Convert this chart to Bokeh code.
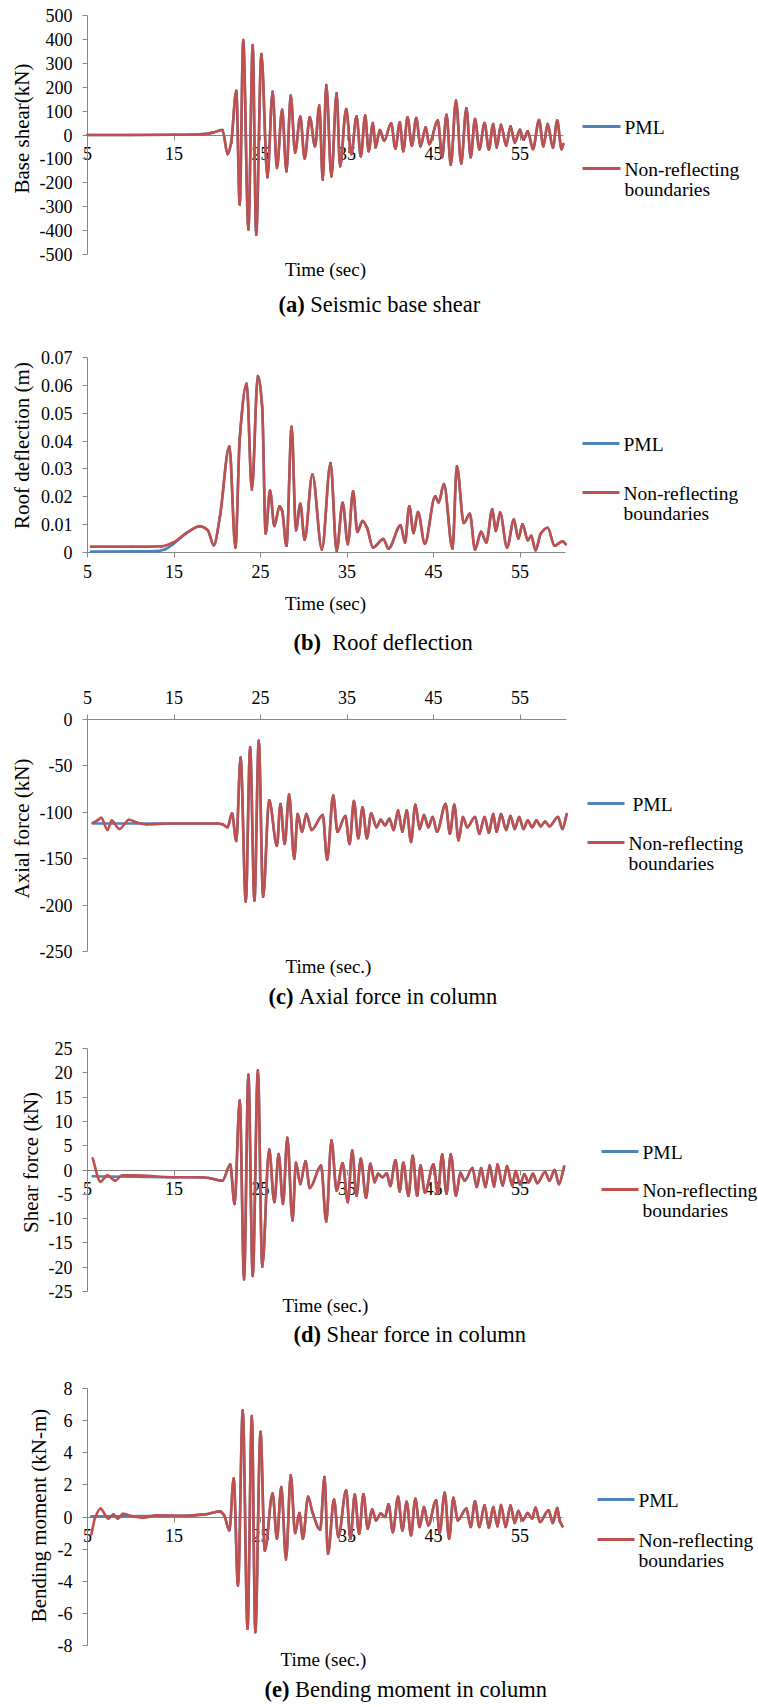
import numpy as np
from bokeh.plotting import figure
from bokeh.models import Range1d, LinearAxis, FixedTicker, NumeralTickFormatter, ColumnDataSource
from bokeh.layouts import column
from bokeh.embed import file_html
from bokeh.resources import INLINE
from bokeh.core.properties import value

FONT = "Liberation Serif"
BLUE = "#4F81BD"
RED = "#C0504D"
AXIS = "#868686"

# ---------------- data ----------------
x_ticks = [5, 15, 25, 35, 45, 55]

# (a) Seismic base shear (kN)
t_a = [5.0, 10.0, 15.0, 18.0, 19.5, 20.6, 21.2, 21.6, 22.2, 22.6, 23.0, 23.6, 24.1, 24.5, 25.1,
       25.8, 26.4, 26.9, 27.5, 28.0, 28.5, 29.0, 29.6, 30.1, 30.7, 31.3, 31.8, 32.2, 32.6, 33.2,
       33.8, 34.2, 34.9, 35.5, 36.1, 36.6, 37.1, 37.5, 38.0, 38.3, 38.8, 39.3, 40.1, 40.6, 41.1,
       41.5, 42.0, 42.5, 43.0, 43.5, 44.1, 44.5, 45.5, 46.0, 46.5, 47.0, 47.6, 48.2, 48.8, 49.3,
       49.8, 50.3, 50.9, 51.4, 51.9, 52.3, 52.8, 53.4, 53.9, 54.4, 55.0, 55.4, 55.9, 56.5, 57.2,
       57.7, 58.2, 58.8, 59.3, 59.8, 60.0]
nrb_a = [0, 0, 1, 3, 10, 21, -80, -35, 185, -291, 397, -395, 376, -417, 339,
         -177, 181, -138, 105, -152, 165, -73, 77, -98, 74, -47, 123, -187, 209, -173,
         174, -131, 109, -80, 78, -89, 81, -68, 50, -52, 21, -24, 49, -56, 53,
         -68, 74, -45, 71, -47, 32, -38, 60, -93, 85, -124, 144, -119, 112, -93,
         67, -60, 50, -60, 46, -52, 43, -45, 36, -31, 22, -20, 15, -59, 63,
         -47, 46, -52, 60, -59, -38]
t_pml_a = list(t_a)
pml_a = list(nrb_a)

# (b) Roof deflection (m)
t_b = [5.4, 10.0, 13.5, 14.9, 16.4, 18.0, 18.9, 19.6, 20.3, 21.4, 22.1, 22.6, 23.4, 24.0, 24.7,
       25.2, 25.6, 26.1, 26.6, 27.2, 27.5, 28.0, 28.6, 29.1, 29.6, 30.1, 31.0, 32.1, 33.1, 33.8,
       34.5, 35.1, 35.7, 36.2, 36.8, 37.3, 38.0, 39.2, 39.8, 41.2, 41.7, 42.2, 42.7, 43.2, 44.0,
       45.2, 45.6, 46.2, 47.2, 47.7, 48.5, 49.2, 49.8, 50.5, 51.1, 51.8, 52.2, 52.7, 53.5, 54.3,
       54.8, 55.3, 55.9, 56.3, 56.8, 57.4, 58.2, 59.0, 59.9, 60.3]
nrb_b = [0.0021, 0.0021, 0.0022, 0.0036, 0.0070, 0.0094, 0.0080, 0.0026, 0.0127, 0.0380,
         0.0018, 0.0410, 0.0606, 0.0226, 0.0633, 0.0520, 0.0068, 0.0222, 0.0095, 0.0166,
         0.0150, 0.0024, 0.0451, 0.0080, 0.0175, 0.0046, 0.0280, 0.0011, 0.0321, 0.0006,
         0.0178, 0.0030, 0.0220, 0.0074, 0.0113, 0.0090, 0.0018, 0.0048, 0.0014, 0.0098,
         0.0036, 0.0166, 0.0070, 0.0145, 0.0032, 0.0202, 0.0180, 0.0246, 0.0014, 0.0309,
         0.0106, 0.0139, 0.0011, 0.0074, 0.0036, 0.0155, 0.0077, 0.0143, 0.0018, 0.0118,
         0.0050, 0.0101, 0.0044, 0.0060, 0.0008, 0.0068, 0.0089, 0.0024, 0.0040, 0.0030]
t_pml_b_head = [5.4, 10.0, 13.0, 14.0, 14.9, 16.4]
pml_b_head = [0.0003, 0.0004, 0.0005, 0.0012, 0.0030, 0.0068]
t_pml_b = t_pml_b_head + t_b[5:]
pml_b = pml_b_head + nrb_b[5:]

# (c) Axial force in column (kN)
t_c = [5.6, 6.1, 6.6, 7.3, 7.8, 8.7, 9.8, 10.7, 11.8, 15.0, 20.0, 20.6, 21.2, 21.7, 22.2,
       22.7, 23.3, 23.8, 24.3, 24.8, 25.3, 26.0, 26.9, 27.3, 27.8, 28.3, 28.9, 29.3, 29.8, 30.3,
       30.9, 32.2, 32.7, 33.4, 33.9, 34.8, 35.3, 35.8, 36.3, 36.8, 37.3, 37.8, 38.4, 38.9, 39.4,
       39.9, 40.4, 40.9, 41.4, 41.9, 42.4, 42.9, 43.4, 43.9, 44.4, 44.9, 45.4, 46.4, 46.9, 47.4,
       47.9, 48.4, 48.9, 49.8, 50.3, 50.9, 51.4, 51.9, 52.3, 52.8, 53.4, 53.9, 54.4, 54.9, 55.4,
       55.9, 56.4, 56.9, 57.4, 57.9, 58.4, 59.4, 59.9, 60.4]
nrb_c = [-111.5, -109, -106, -119, -109, -118, -108, -111, -113, -112, -112, -113, -116, -101, -131,
         -41, -196, -30, -195, -23, -191, -87, -136, -91, -134, -81, -150, -102, -121, -102,
         -119, -103, -151, -82, -121, -104, -134, -88, -128, -95, -128, -101, -116, -108, -114,
         -107, -119, -98, -121, -98, -132, -92, -118, -103, -116, -105, -121, -91, -123, -92,
         -130, -105, -116, -105, -123, -105, -122, -102, -121, -102, -119, -104, -118, -105, -118,
         -109, -116, -109, -115, -110, -115, -105, -118, -102]
t_pml_c = [5.6, 15.0] + t_c[10:]
pml_c = [-112, -112] + nrb_c[10:]

# (d) Shear force in column (kN)
t_d = [5.6, 6.5, 7.3, 8.2, 9.0, 10.4, 15.0, 18.0, 19.2, 20.6, 21.5, 22.0, 22.6, 23.1, 23.6,
       24.1, 24.7, 25.2, 26.0, 26.6, 27.1, 27.6, 28.1, 28.7, 29.1, 29.6, 30.2, 30.7, 32.0, 32.6,
       33.2, 33.8, 34.5, 35.1, 35.6, 36.1, 36.6, 37.2, 37.7, 38.2, 38.6, 39.1, 39.6, 40.0, 40.6,
       41.1, 41.5, 42.1, 42.6, 43.1, 43.5, 44.0, 45.0, 45.5, 46.0, 46.5, 47.0, 47.6, 48.1, 48.6,
       49.5, 50.0, 50.5, 51.0, 51.5, 52.0, 52.4, 53.0, 53.5, 54.1, 54.5, 55.0, 55.5, 56.0, 56.5,
       57.0, 57.9, 58.4, 59.0, 59.5, 60.1]
nrb_d = [2.4, -2.4, -1.1, -2.2, -1.1, -1.1, -1.5, -1.5, -1.7, -2.2, 1.1, -7.0, 14.3, -22.5, 19.6,
         -21.8, 20.5, -19.9, 4.2, -6.6, 3.3, -7.0, 6.6, -10.4, 1.5, -2.9, 1.8, -3.7, 0.9, -10.6,
         6.1, -4.2, 1.4, -6.6, 4.0, -5.3, 2.3, -5.7, 1.3, -2.5, -0.8, -1.5, -0.7, -3.3, 2.0,
         -4.4, 1.5, -5.3, 2.9, -5.3, 0.9, -4.6, 1.1, -4.8, 3.2, -4.9, 3.2, -5.3, -0.6, -2.2,
         0.4, -3.5, 0.4, -3.5, 0.9, -3.4, 1.1, -3.2, 0.8, -3.2, -0.2, -3.0, -0.9, -2.5, -0.8,
         -2.7, -0.4, -2.2, 0.0, -2.9, 0.7]
t_pml_d = [5.6, 10.4, 15.0] + t_d[7:]
pml_d = [-1.3, -1.4, -1.5] + nrb_d[7:]

# (e) Bending moment in column (kN-m)
t_e = [5.45, 5.85, 6.5, 7.4, 8.0, 8.5, 9.1, 10.1, 11.5, 13.0, 16.4, 18.6, 20.3, 20.8, 21.4,
       21.9, 22.4, 22.95, 23.5, 24.0, 24.4, 25.0, 25.5, 26.4, 26.9, 27.4, 27.95, 28.5, 29.0, 29.5,
       29.9, 30.5, 31.0, 31.9, 32.4, 32.8, 33.5, 34.0, 34.9, 35.4, 35.9, 36.4, 36.9, 37.4, 37.9,
       38.35, 38.9, 39.4, 39.8, 40.3, 40.9, 41.4, 41.9, 42.4, 42.9, 43.4, 43.9, 44.4, 45.3, 45.7,
       46.3, 46.8, 47.3, 47.8, 48.8, 49.3, 49.8, 50.3, 50.9, 51.4, 51.9, 52.4, 52.8, 53.35, 53.9,
       54.4, 54.8, 55.3, 55.9, 56.4, 56.8, 57.3, 58.3, 58.8, 59.3, 59.6, 59.9]
nrb_e = [-1.08, -0.1, 0.52, -0.1, 0.17, -0.1, 0.2, 0.06, -0.04, 0.1, 0.08, 0.17, 0.35, 0.1, -0.83,
         2.39, -4.26, 6.65, -6.96, 6.28, -7.17, 5.3, -2.08, 1.46, -1.35, 1.87, -2.64, 2.6, -1.0, 0.25,
         -1.35, 1.25, 0.31, -0.79, 2.49, -2.29, 1.08, -1.25, 1.66, -1.35, 1.39, -1.04, 1.41, -0.73, 0.48,
         -0.21, 0.21, 0.0, 0.79, -0.94, 1.25, -0.83, 0.94, -1.14, 1.14, -0.62, 0.62, -0.52, 1.04, -1.0,
         1.5, -1.35, 1.19, -0.21, 0.52, -0.62, 0.98, -0.62, 0.73, -0.67, 0.62, -0.58, 0.75, -0.62, 0.71,
         -0.37, 0.37, -0.21, 0.25, -0.1, 0.58, -0.31, 0.42, -0.37, 0.56, -0.25, -0.58]
t_pml_e = [5.45, 9.1, 13.0] + t_e[10:]
pml_e = [0.05, 0.05, 0.08] + nrb_e[10:]

yticks_a = [-500, -400, -300, -200, -100, 0, 100, 200, 300, 400, 500]
yticks_b = [0, 0.01, 0.02, 0.03, 0.04, 0.05, 0.06, 0.07]
yticks_c = [-250, -200, -150, -100, -50, 0]
yticks_d = [-25, -20, -15, -10, -5, 0, 5, 10, 15, 20, 25]
yticks_e = [-8, -6, -4, -2, 0, 2, 4, 6, 8]

ytitles = ["Base shear(kN)", "Roof deflection (m)", "Axial force (kN)",
           "Shear force (kN)", "Bending moment (kN-m)"]
xtitles = ["Time (sec)", "Time (sec)", "Time (sec.)", "Time (sec.)", "Time (sec.)"]
cap_tags = ["(a)", "(b)", "(c)", "(d)", "(e)"]
cap_texts = ["Seismic base shear", "Roof deflection", "Axial force in column",
             "Shear force in column", "Bending moment in column"]
legend_labels = ["PML", "Non-reflecting", "boundaries"]

# ---------------- layout (page pixel positions; the page has no margin) ----------------
W = 758
XS = 8.65                       # px per second
X0 = 5 - 87 / XS
X1 = X0 + W / XS

BOLD_EM = {"(": 0.333, ")": 0.333, "a": 0.5, "b": 0.556, "c": 0.444, "d": 0.556, "e": 0.444}
CAP_SIZE = 22.5
LEG_SIZE = 19.5

# all text y positions below are the vertical middles of the texts
specs = [
    dict(top=0, height=330, ref=((500, 15), (-500, 254)), yb=(-500, 500), fmt="0", side="below",
         xb=(5, 60), ylab=(21, 128), xt=(325, 269), cap=(278, 304, 1),
         leg=(582, 620, 624, 624, 126, 168)),
    dict(top=330, height=340, ref=((0.07, 357), (0.0, 552)), yb=(0, 0.07), fmt="0.[00]", side="below",
         xb=(5, 60.3), ylab=(21, 445), xt=(325, 603), cap=(293, 642, 2),
         leg=(582, 619, 623, 623, 443, 492)),
    dict(top=670, height=348, ref=((0, 719), (-250, 951)), yb=(-250, 0), fmt="0", side="above",
         xb=(5, 60.4), ylab=(21, 828), xt=(328, 966), cap=(268, 996, 1),
         leg=(587, 624, 632, 628, 803, 842)),
    dict(top=1018, height=337, ref=((25, 1048), (-25, 1291)), yb=(-25, 25), fmt="0", side="below",
         xb=(5, 60.1), ylab=(30, 1162), xt=(325, 1305), cap=(293, 1334, 1),
         leg=(601, 638, 642, 642, 1151, 1189)),
    dict(top=1355, height=350, ref=((8, 1388), (-8, 1645)), yb=(-8, 8), fmt="0", side="below",
         xb=(5, 59.9), ylab=(38, 1515), xt=(323, 1659), cap=(264, 1689, 1),
         leg=(597, 634, 638, 638, 1499, 1539)),
]

series = [(t_a, nrb_a, t_pml_a, pml_a, yticks_a),
          (t_b, nrb_b, t_pml_b, pml_b, yticks_b),
          (t_c, nrb_c, t_pml_c, pml_c, yticks_c),
          (t_d, nrb_d, t_pml_d, pml_d, yticks_d),
          (t_e, nrb_e, t_pml_e, pml_e, yticks_e)]


def fx(px):
    return X0 + px / XS


def smooth_segments(t, v):
    """Bezier segments of a smoothed (monotone cubic) line through the given points."""
    t = np.asarray(t, float)
    v = np.asarray(v, float)
    h = np.diff(t)
    d = np.diff(v) / h
    n = len(t)
    m = np.zeros(n)
    m[0], m[-1] = d[0], d[-1]
    for k in range(1, n - 1):
        if d[k - 1] * d[k] > 0:
            w1 = 2 * h[k] + h[k - 1]
            w2 = h[k] + 2 * h[k - 1]
            m[k] = (w1 + w2) / (w1 / d[k - 1] + w2 / d[k])
    return ColumnDataSource(dict(
        x0=t[:-1], y0=v[:-1], x1=t[1:], y1=v[1:],
        cx0=t[:-1] + h / 3, cy0=v[:-1] + m[:-1] * h / 3,
        cx1=t[1:] - h / 3, cy1=v[1:] - m[1:] * h / 3))


def style_axis(ax):
    ax.axis_line_color = AXIS
    ax.axis_line_width = 1
    ax.major_tick_line_color = AXIS
    ax.major_tick_out = 5
    ax.major_tick_in = 0
    ax.minor_tick_line_color = None
    ax.major_label_text_font = FONT
    ax.major_label_text_font_size = "18px"
    ax.major_label_text_color = "black"
    ax.level = "underlay"


def build(i):
    sp = specs[i]
    t, nrb, tp, pml, yt = series[i]
    top, height = sp["top"], sp["height"]
    (v1, p1), (v2, p2) = sp["ref"]
    s = (p2 - p1) / (v1 - v2)
    ytop = v1 + (p1 - top) / s
    ybot = ytop - height / s

    def fy(py):
        return ytop - (py - top) / s

    p = figure(width=W, height=height, x_range=Range1d(X0, X1), y_range=Range1d(ybot, ytop),
               x_axis_location=None, y_axis_location=None, toolbar_location=None,
               output_backend="svg", min_border=0, title=None, outline_line_color=None)
    p.background_fill_color = "white"
    p.border_fill_color = "white"
    p.xgrid.visible = False
    p.ygrid.visible = False

    yax = LinearAxis(fixed_location=5, bounds=sp["yb"], ticker=FixedTicker(ticks=yt),
                     formatter=NumeralTickFormatter(format=sp["fmt"]))
    style_axis(yax)
    yax.major_label_standoff = 10
    p.add_layout(yax, "left")

    above = sp["side"] == "above"
    xax = LinearAxis(fixed_location=sp["yb"][1] if above else 0,
                     bounds=sp["xb"], ticker=FixedTicker(ticks=x_ticks),
                     formatter=NumeralTickFormatter(format="0"))
    style_axis(xax)
    xax.major_label_standoff = 11 if above else 7
    p.add_layout(xax, sp["side"])

    p.bezier(x0="x0", y0="y0", x1="x1", y1="y1", cx0="cx0", cy0="cy0", cx1="cx1", cy1="cy1",
             source=smooth_segments(tp, pml), line_color=BLUE, line_width=2.6, line_cap="round")
    p.bezier(x0="x0", y0="y0", x1="x1", y1="y1", cx0="cx0", cy0="cy0", cx1="cx1", cy1="cy1",
             source=smooth_segments(t, nrb), line_color=RED, line_width=2.6, line_cap="round")

    common = dict(text_font=value(FONT), text_baseline="middle", text_color="black")
    # y-axis title
    p.text(x=[fx(sp["ylab"][0])], y=[fy(sp["ylab"][1])], text=[ytitles[i]], angle=np.pi / 2,
           text_font_size="21px", text_align="center", **common)
    # x-axis title
    p.text(x=[fx(sp["xt"][0])], y=[fy(sp["xt"][1])], text=[xtitles[i]],
           text_font_size="19px", text_align="center", **common)
    # caption
    cl, cm, nsp = sp["cap"]
    tag = cap_tags[i]
    wb = sum(BOLD_EM[c] for c in tag) * CAP_SIZE
    p.text(x=[fx(cl)], y=[fy(cm)], text=[tag], text_font_size=f"{CAP_SIZE}px",
           text_font_style="bold", text_align="left", **common)
    p.text(x=[fx(cl + wb + 0.25 * CAP_SIZE * nsp)], y=[fy(cm)], text=[cap_texts[i]],
           text_font_size=f"{CAP_SIZE}px", text_align="left", **common)
    # legend
    lx1, lx2, ptx, tx, py1, py2 = sp["leg"]
    p.line([fx(lx1), fx(lx2)], [fy(py1), fy(py1)], line_color=BLUE, line_width=3)
    p.line([fx(lx1), fx(lx2)], [fy(py2), fy(py2)], line_color=RED, line_width=3)
    p.text(x=[fx(ptx)], y=[fy(py1 + 1)], text=[legend_labels[0]],
           text_font_size=f"{LEG_SIZE}px", text_align="left", **common)
    p.text(x=[fx(tx), fx(tx)], y=[fy(py2 + 1), fy(py2 + 21)], text=legend_labels[1:],
           text_font_size=f"{LEG_SIZE}px", text_align="left", **common)
    return p


figs = [build(i) for i in range(5)]
layout = column(*figs, spacing=0)
open("out.html", "w").write(file_html(layout, INLINE))
